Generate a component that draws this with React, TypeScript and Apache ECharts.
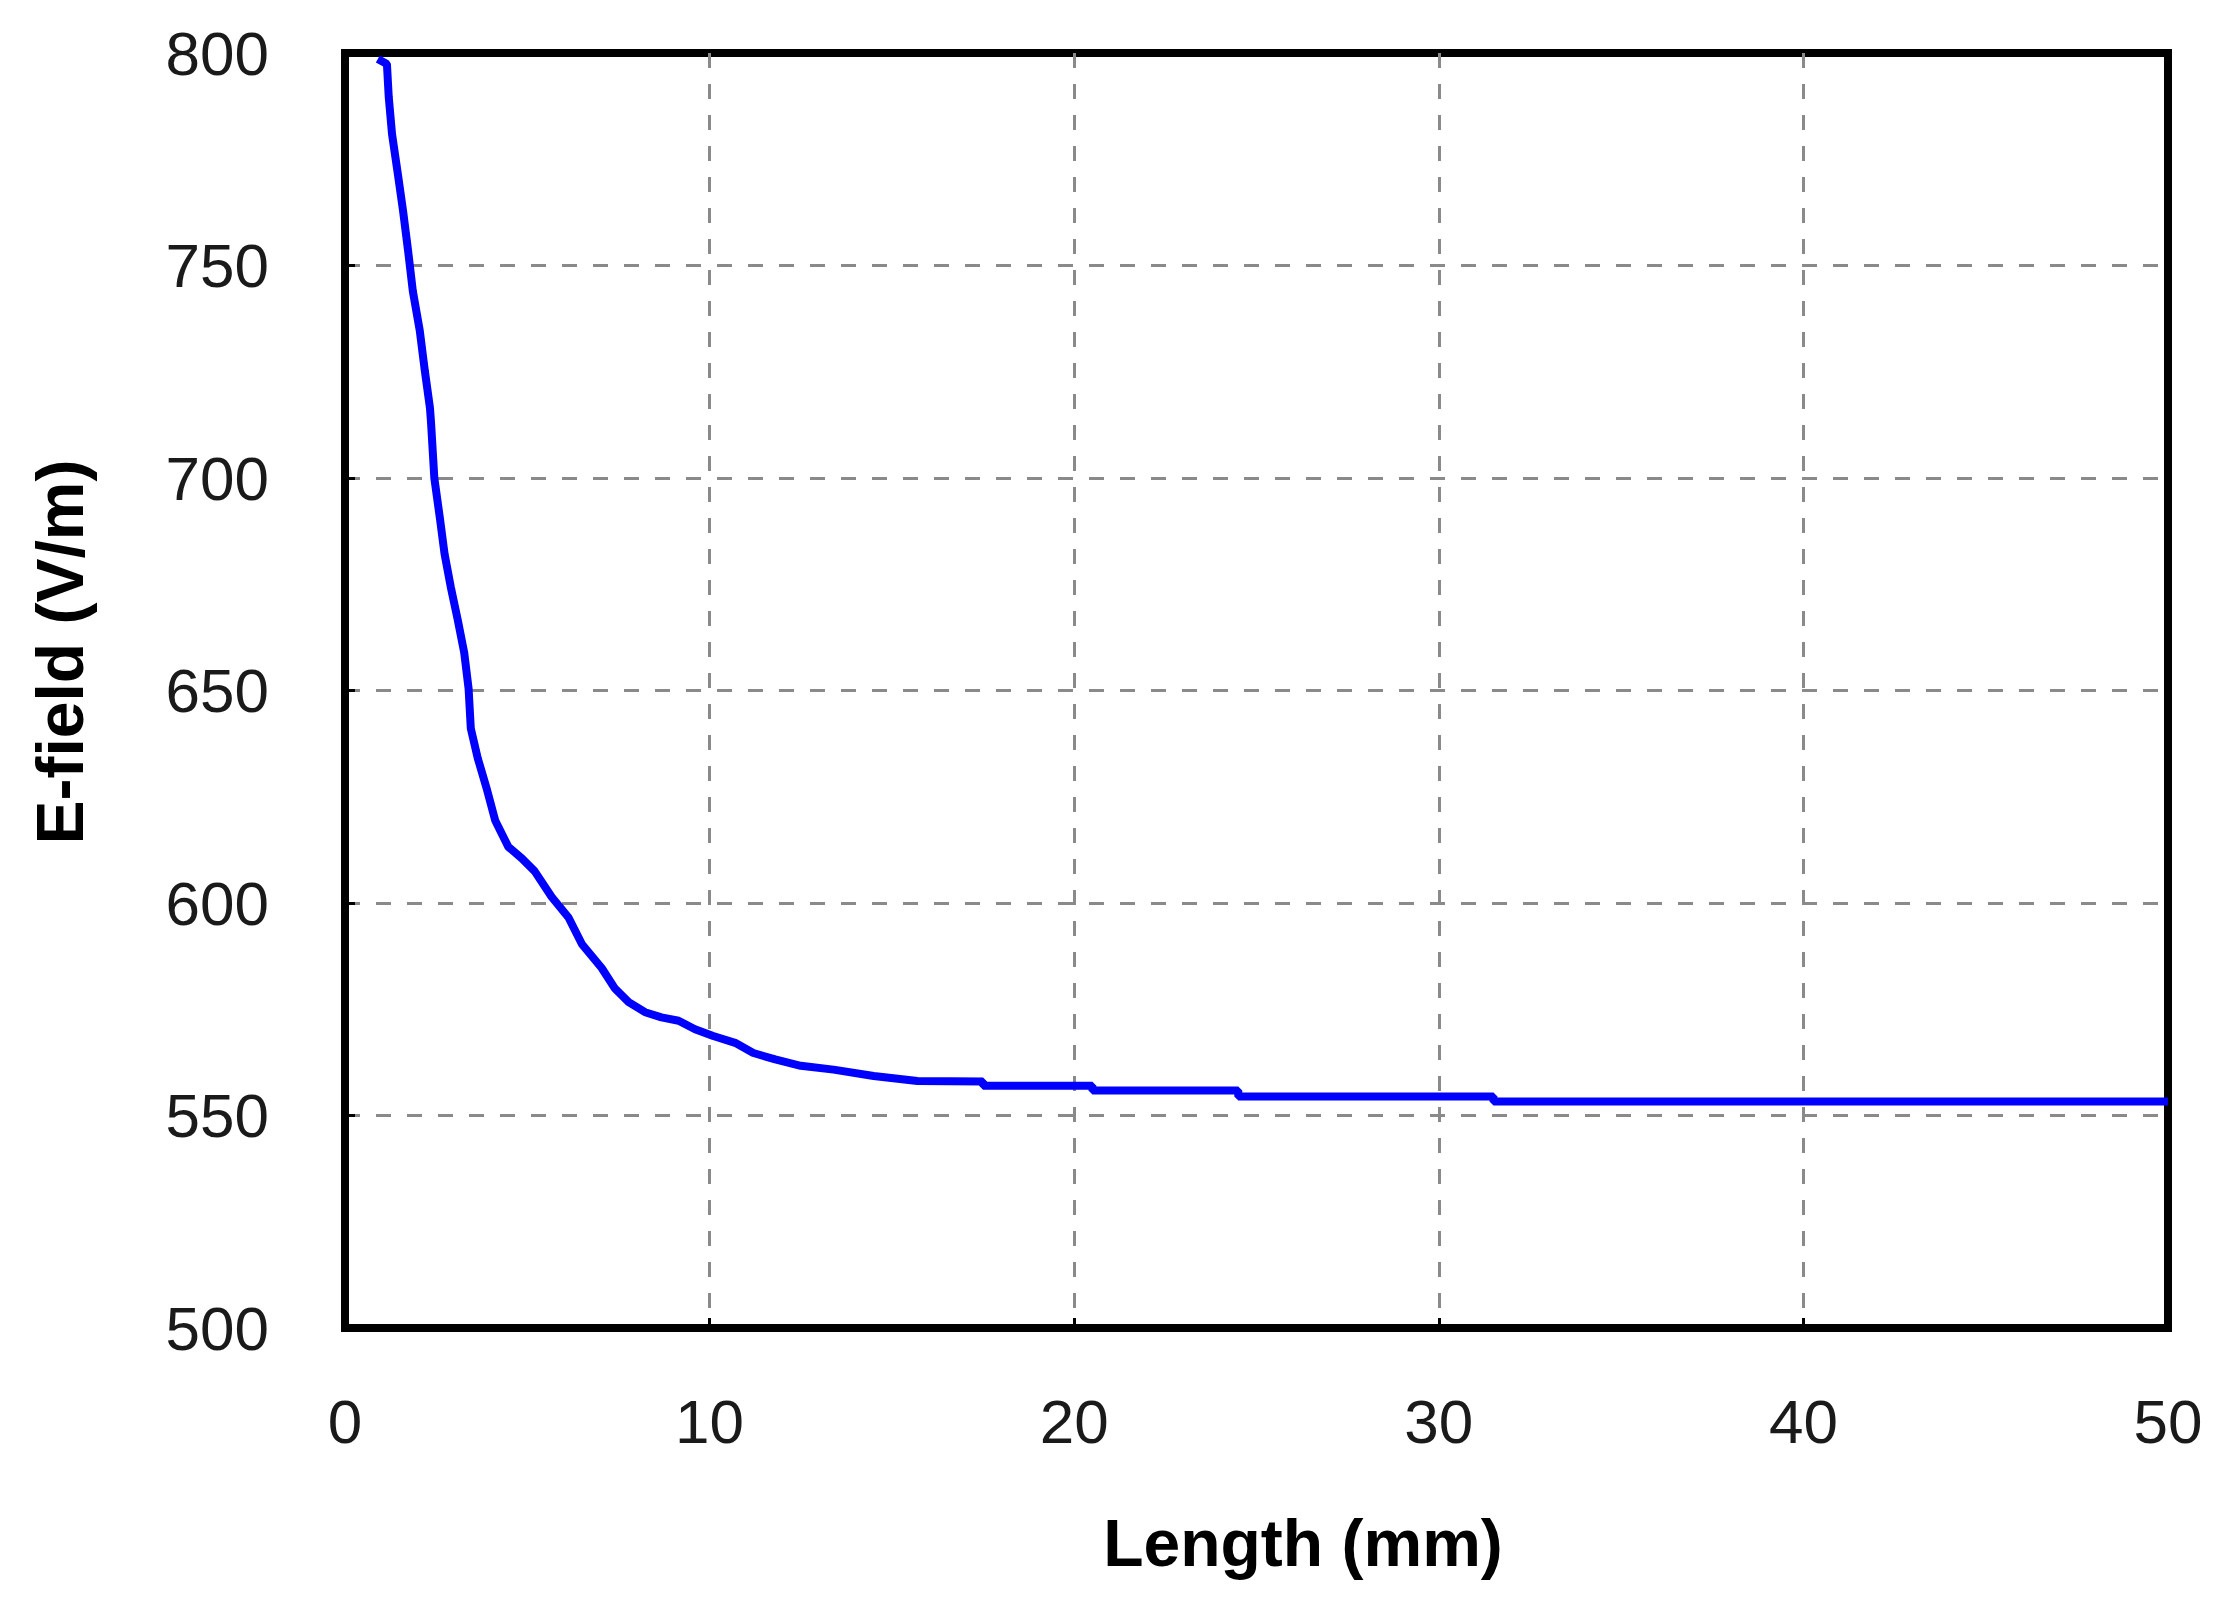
import React, { useEffect, useRef } from "react";
import * as echarts from "echarts";

const lengthMm: number[] = [
  0.9, 1.15, 1.2, 1.29, 1.45, 1.59, 1.73, 1.86, 2.05, 2.19, 2.33, 2.36, 2.45, 2.6, 2.73, 2.9,
  3.09, 3.27, 3.39, 3.45, 3.64, 3.88, 4.12, 4.48, 4.85, 5.2, 5.67, 6.13, 6.5, 7.04, 7.4, 7.78,
  8.23, 8.68, 9.15, 9.6, 10.1, 10.7, 11.2, 11.8, 12.5, 13.4, 14.5, 15.7, 17.5, 17.5, 20.5, 20.5,
  24.5, 24.5, 31.5, 31.5, 50,
];
const eField: number[] = [
  798.6, 797.4, 789.6, 780.9, 771.5, 763, 753.5, 744, 734.7, 725.2, 716.5, 713, 700, 690.7, 682.2, 674.4,
  666.7, 658.9, 650.4, 641.1, 634.1, 627.1, 619.4, 613.2, 610.5, 607.5, 601.4, 596.6, 590.3, 584.7, 579.9, 576.7,
  574.3, 573.1, 572.3, 570.3, 568.7, 567.1, 564.7, 563.2, 561.7, 560.8, 559.3, 558.1, 558.0, 557.0, 557.0, 555.9,
  555.9, 554.5, 554.5, 553.3, 553.3,
];
const xAxisTitle = "Length (mm)";
const yAxisTitle = "E-field (V/m)";
const xRange = [0, 50];
const yRange = [500, 800];

const tickFont = "'Liberation Sans Narrow', 'Liberation Sans', Arial, sans-serif";

export default function App() {
  const ref = useRef<HTMLDivElement>(null);
  useEffect(() => {
    if (!ref.current) return;
    const chart = echarts.init(ref.current, null, { renderer: "svg" });
    const gridLine = {
      show: true,
      showMinLine: false,
      showMaxLine: false,
      lineStyle: { color: "#8a8a8a", width: 3, type: [15, 16] as any },
    };
    chart.setOption({
      animation: false,
      backgroundColor: "#ffffff",
      grid: {
        left: 345,
        top: 53,
        width: 1823,
        height: 1275,
        show: true,
        borderColor: "#000",
        borderWidth: 8,
        backgroundColor: "transparent",
      },
      xAxis: {
        type: "value",
        min: xRange[0],
        max: xRange[1],
        interval: 10,
        axisLine: { show: true, lineStyle: { color: "#000", width: 8 } },
        axisTick: { show: true, inside: true, length: 10, lineStyle: { color: "#000", width: 3 } },
        axisLabel: { fontFamily: tickFont, fontSize: 62, color: "#1a1a1a", margin: 62 },
        splitLine: gridLine,
      },
      yAxis: {
        type: "value",
        min: yRange[0],
        max: yRange[1],
        interval: 50,
        axisLine: { show: true, lineStyle: { color: "#000", width: 8 } },
        axisTick: { show: true, inside: true, length: 10, lineStyle: { color: "#000", width: 3 } },
        axisLabel: { fontFamily: tickFont, fontSize: 62, color: "#1a1a1a", margin: 76 },
        splitLine: gridLine,
      },
      graphic: [
        {
          type: "text",
          x: 1303,
          y: 1543,
          style: {
            text: xAxisTitle,
            font: "bold 66px Arial, 'Liberation Sans', sans-serif",
            fill: "#000",
            textAlign: "center",
            textVerticalAlign: "middle",
          },
        },
        {
          type: "text",
          x: 60,
          y: 652,
          rotation: Math.PI / 2,
          style: {
            text: yAxisTitle,
            font: "bold 66px Arial, 'Liberation Sans', sans-serif",
            fill: "#000",
            textAlign: "center",
            textVerticalAlign: "middle",
          },
        },
      ],
      series: [
        {
          type: "line",
          data: lengthMm.map((x, i) => [x, eField[i]]),
          showSymbol: false,
          smooth: false,
          lineStyle: { color: "#0000ff", width: 8 },
          z: 5,
        },
      ],
    });
    return () => chart.dispose();
  }, []);
  return (
    <div
      ref={ref}
      style={{ position: "fixed", left: 0, top: 0, width: 2224, height: 1612, background: "#fff" }}
    />
  );
}
